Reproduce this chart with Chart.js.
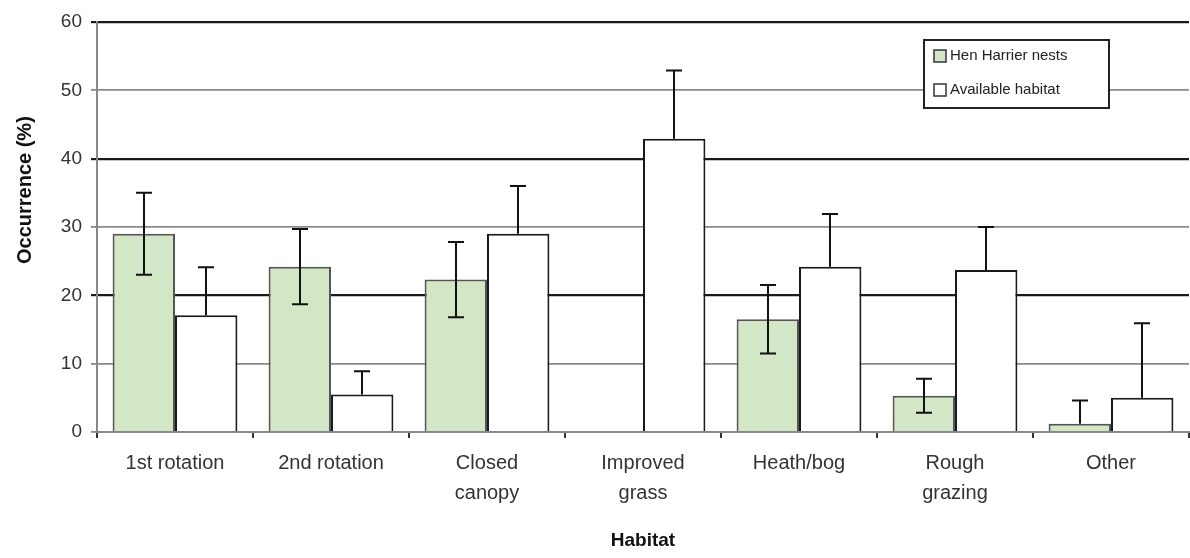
<!DOCTYPE html>
<html>
<head>
<meta charset="utf-8">
<script src="https://cdn.jsdelivr.net/npm/chart.js@4.4.1/dist/chart.umd.min.js"></script>
<style>
  html, body { margin: 0; padding: 0; background: #fff; }
  #wrap { width: 1190px; height: 558px; }
</style>
</head>
<body>
<div id="wrap"><canvas id="chart"></canvas></div>
<script>
// data
const habitats = [['1st rotation'], ['2nd rotation'], ['Closed', 'canopy'], ['Improved', 'grass'], ['Heath/bog'], ['Rough', 'grazing'], ['Other']];
const nests = [29, 24.2, 22.3, 0, 16.5, 5.3, 1.2];
const nestsErr = [6, 5.5, 5.5, 0, 5, 2.5, 3.4];
const available = [17.1, 5.5, 29, 42.9, 24.2, 23.7, 5.0];
const availableErr = [7, 3.4, 7, 10, 7.7, 6.3, 10.9];
const yTicks = [0, 10, 20, 30, 40, 50, 60];
const yTitle = 'Occurrence (%)';

const FONT = '"Liberation Sans", Arial, sans-serif';

// error bars, drawn on top of the bars
const errorBars = {
    id: 'errorBars',
    afterDatasetsDraw(chart) {
        const ctx = chart.ctx;
        const y = chart.scales.y;
        ctx.save();
        ctx.strokeStyle = '#111';
        ctx.lineWidth = 2;
        chart.data.datasets.forEach((ds, i) => {
            const meta = chart.getDatasetMeta(i);
            meta.data.forEach((bar, j) => {
                const v = ds.data[j];
                const e = ds.errors[j];
                if (!e) return;
                const x = Math.round(bar.x);
                const top = y.getPixelForValue(v + e);
                let low = y.getPixelForValue(v);
                const hasLow = ds.lowerErrors && v - e >= 0;
                if (hasLow) low = y.getPixelForValue(v - e);
                ctx.beginPath();
                ctx.moveTo(x, top);
                ctx.lineTo(x, low);
                ctx.moveTo(x - 8, top);
                ctx.lineTo(x + 8, top);
                if (hasLow) {
                    ctx.moveTo(x - 8, low);
                    ctx.lineTo(x + 8, low);
                }
                ctx.stroke();
            });
        });
        ctx.restore();
    }
};

// boxed legend inside the plot, top right, plus the y title (sits a bit above centre)
const boxLegend = {
    id: 'boxLegend',
    afterDraw(chart) {
        const ctx = chart.ctx;
        const area = chart.chartArea;
        const w = 185, h = 68;
        const left = area.right - 80 - w;
        const top = area.top + 18;
        ctx.save();
        ctx.fillStyle = '#fff';
        ctx.fillRect(left, top, w, h);
        ctx.strokeStyle = '#222';
        ctx.lineWidth = 2;
        ctx.strokeRect(left, top, w, h);
        ctx.font = '15px ' + FONT;
        ctx.textBaseline = 'middle';
        chart.data.datasets.forEach((ds, i) => {
            const cy = top + 16 + i * 34;
            ctx.fillStyle = ds.backgroundColor;
            ctx.fillRect(left + 10, cy - 6, 12, 12);
            ctx.strokeStyle = '#333';
            ctx.lineWidth = 1.5;
            ctx.strokeRect(left + 10, cy - 6, 12, 12);
            ctx.fillStyle = '#222';
            ctx.fillText(ds.label, left + 26, cy);
        });

        // y axis title
        ctx.translate(25, area.top + (area.bottom - area.top) * 0.41);
        ctx.rotate(-Math.PI / 2);
        ctx.font = 'bold 20px ' + FONT;
        ctx.textAlign = 'center';
        ctx.fillStyle = '#111';
        ctx.fillText(yTitle, 0, 0);
        ctx.restore();
    }
};

new Chart(document.getElementById('chart'), {
    type: 'bar',
    data: {
        labels: habitats,
        datasets: [
            {
                label: 'Hen Harrier nests',
                data: nests,
                errors: nestsErr,
                lowerErrors: true,
                backgroundColor: '#d3e7c6',
                borderColor: '#555',
                borderWidth: 2,
                categoryPercentage: 0.8,
                barPercentage: 1.0,
            },
            {
                label: 'Available habitat',
                data: available,
                errors: availableErr,
                lowerErrors: false,
                backgroundColor: '#ffffff',
                borderColor: '#1a1a1a',
                borderWidth: 2,
                categoryPercentage: 0.8,
                barPercentage: 1.0,
            },
        ],
    },
    options: {
        responsive: true,
        maintainAspectRatio: false,
        animation: false,
        layout: { padding: { top: 22, right: 1, bottom: 0, left: 0 } },
        plugins: {
            legend: { display: false },
            tooltip: { enabled: false },
        },
        scales: {
            x: {
                grid: {
                    display: true,
                    drawOnChartArea: false,
                    drawTicks: true,
                    tickLength: 6,
                    color: '#333',
                    lineWidth: 2,
                },
                border: { color: '#888', width: 2 },
                ticks: {
                    color: '#333',
                    font: { family: FONT, size: 20, lineHeight: 1.5 },
                    padding: 10,
                    maxRotation: 0,
                    autoSkip: false,
                },
                title: {
                    display: true,
                    text: 'Habitat',
                    color: '#111',
                    font: { family: FONT, size: 19, weight: 'bold' },
                    padding: { top: 0, bottom: 6 },
                },
                afterFit(scale) { scale.height = 126; },
            },
            y: {
                min: 0,
                max: 60,
                afterBuildTicks(scale) { scale.ticks = yTicks.map(v => ({ value: v })); },
                grid: {
                    color: (c) => (c.tick && c.tick.value % 20 === 0 && c.tick.value > 0) ? '#1a1a1a' : '#8a8a8a',
                    lineWidth: (c) => (c.tick && c.tick.value % 20 === 0 && c.tick.value > 0) ? 2.2 : 1.8,
                    tickLength: 6,
                },
                border: { color: '#888', width: 2 },
                ticks: {
                    color: '#333',
                    font: { family: FONT, size: 19 },
                    padding: 9,
                },
                afterFit(scale) { scale.width = 97; },
            },
        },
    },
    plugins: [errorBars, boxLegend],
});
</script>
</body>
</html>
